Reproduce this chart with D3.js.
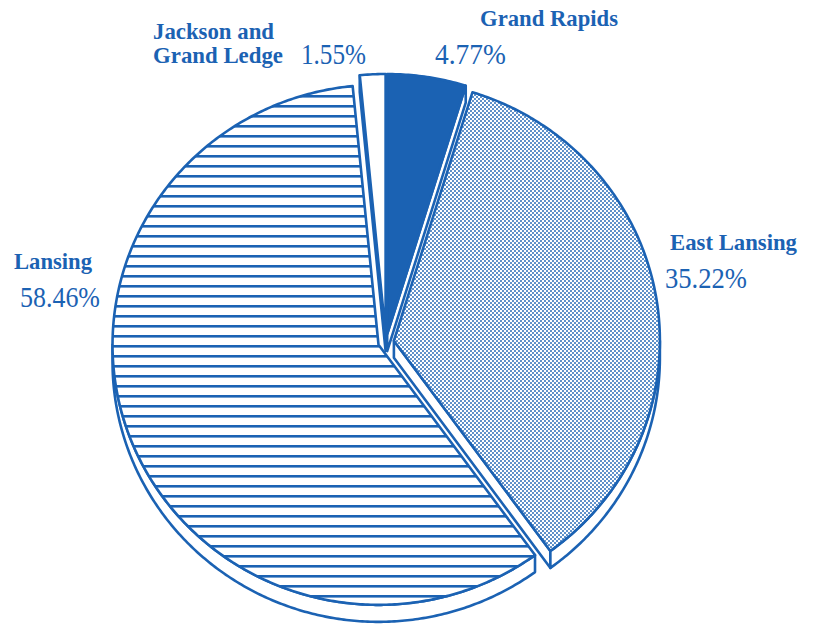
<!DOCTYPE html>
<html lang="en">
<head>
    <meta charset="UTF-8">
    <title>Pie chart by location</title>
    <style>
        body { margin: 0; background: #fff; }
        .name { font-family: "Liberation Serif", "Times New Roman", serif; font-weight: bold; font-size: 24px; fill: #1b62b3; }
        .pct { font-family: "Liberation Serif", "Times New Roman", serif; font-size: 29px; fill: #1b62b3; }
    </style>
    <script src="https://d3js.org/d3.v7.min.js"></script>
</head>
<body>
<svg id="chart" width="814" height="624"></svg>

<script>
    // data
    const regions = ["Grand Rapids", "East Lansing", "Lansing", "Jackson and Grand Ledge"];
    const shares = [4.77, 35.22, 58.46, 1.55];
    const pctLabels = ["4.77%", "35.22%", "58.46%", "1.55%"];
    const nameLines = [["Grand Rapids"], ["East Lansing"], ["Lansing"], ["Jackson and", "Grand Ledge"]];

    // label layout: left x, baseline y, fitted width (the printed face is condensed)
    const namePos = [[480, 26], [670, 250], [14, 269], [153, 39]];
    const nameWidth = [[138], [127], [78], [121, 130]];
    const pctPos = [[435, 64], [665, 288], [20, 307], [301, 64]];
    const pctWidth = [71, 82, 80, 65];

    const blue = "#1b62b3";
    const cx = 386, cy = 342, rx = 266, ry = 260, depth = 17, explode = 8;

    const svg = d3.select("#chart");
    const defs = svg.append("defs");

    const stripes = defs.append("pattern")
        .attr("id", "stripes")
        .attr("patternUnits", "userSpaceOnUse")
        .attr("width", 10).attr("height", 10);
    stripes.append("rect").attr("width", 10).attr("height", 10).attr("fill", "#fff");
    stripes.append("rect").attr("y", 5).attr("width", 10).attr("height", 2.6).attr("fill", blue);

    const dots = defs.append("pattern")
        .attr("id", "dots")
        .attr("patternUnits", "userSpaceOnUse")
        .attr("width", 4).attr("height", 4);
    dots.append("rect").attr("width", 4).attr("height", 4).attr("fill", "#fff");
    dots.append("circle").attr("cx", 1).attr("cy", 1).attr("r", 0.95).attr("fill", blue);
    dots.append("circle").attr("cx", 3).attr("cy", 3).attr("r", 0.95).attr("fill", blue);

    const fills = [blue, "url(#dots)", "url(#stripes)", "#fff"];

    const arcs = d3.pie().sort(null).value(d => d)(shares);

    function pt(a, ox, oy, dy) {
        return [ox + rx * Math.sin(a), oy - ry * Math.cos(a) + (dy || 0)];
    }

    function arcPts(a0, a1, ox, oy, dy) {
        const n = Math.max(2, Math.ceil(Math.abs(a1 - a0) / 0.01));
        return d3.range(n + 1).map(i => pt(a0 + (a1 - a0) * i / n, ox, oy, dy));
    }

    const line = d3.line();

    const slices = arcs.map((d, i) => {
        const mid = (d.startAngle + d.endAngle) / 2;
        return {
            i: i,
            a0: d.startAngle,
            a1: d.endAngle,
            ox: cx + explode * Math.sin(mid),
            oy: cy - explode * Math.cos(mid)
        };
    });

    // back to front
    slices.sort((a, b) => a.oy - b.oy);

    const pieG = svg.append("g")
        .attr("stroke", blue)
        .attr("stroke-width", 2.6)
        .attr("stroke-linejoin", "round");

    slices.forEach(function (s) {
        const g = pieG.append("g");

        // radial side walls facing the viewer
        [[s.a0, Math.sin(s.a0) < -1e-6], [s.a1, Math.sin(s.a1) > 1e-6]].forEach(function (w) {
            if (!w[1]) return;
            const o = pt(w[0], s.ox, s.oy);
            g.append("path")
                .attr("fill", "#fff")
                .attr("d", line([[s.ox, s.oy], o, [o[0], o[1] + depth], [s.ox, s.oy + depth]]) + "Z");
        });

        // outer rim wall
        const w0 = Math.max(s.a0, Math.PI / 2), w1 = Math.min(s.a1, Math.PI * 1.5);
        if (w0 < w1) {
            const pts = arcPts(w0, w1, s.ox, s.oy).concat(arcPts(w1, w0, s.ox, s.oy, depth));
            g.append("path").attr("fill", "#fff").attr("d", line(pts) + "Z");
        }

        // top face
        g.append("path")
            .attr("fill", fills[s.i])
            .attr("d", line([[s.ox, s.oy]].concat(arcPts(s.a0, s.a1, s.ox, s.oy))) + "Z");
    });

    // labels
    const labels = svg.append("g");
    nameLines.forEach(function (lines, i) {
        lines.forEach(function (t, k) {
            labels.append("text")
                .attr("class", "name")
                .attr("x", namePos[i][0])
                .attr("y", namePos[i][1] + k * 24)
                .attr("textLength", nameWidth[i][k])
                .attr("lengthAdjust", "spacingAndGlyphs")
                .text(t);
        });
        labels.append("text")
            .attr("class", "pct")
            .attr("x", pctPos[i][0])
            .attr("y", pctPos[i][1])
            .attr("textLength", pctWidth[i])
            .attr("lengthAdjust", "spacingAndGlyphs")
            .text(pctLabels[i]);
    });
</script>
</body>
</html>
